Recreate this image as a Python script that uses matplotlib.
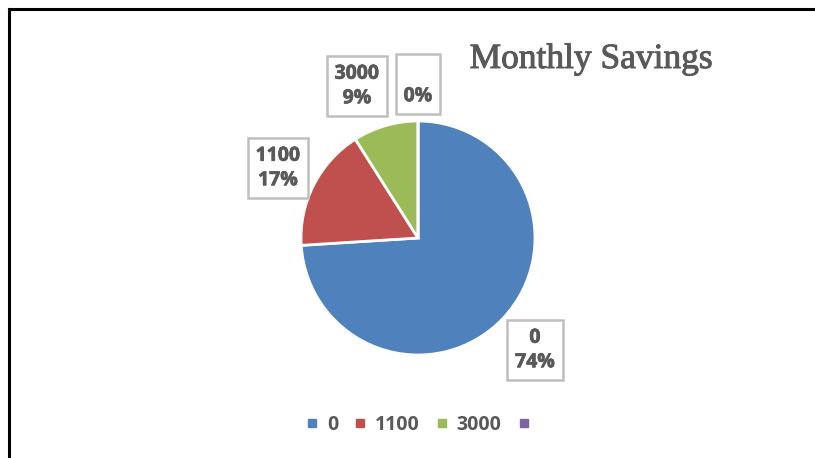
import matplotlib
matplotlib.use("Agg")
from matplotlib import pyplot as plt
from matplotlib.lines import Line2D
import matplotlib.patheffects as pe

# 数据
categories = ['0', '1100', '3000', '']
shares = [74, 17, 9, 0]
colors = ['#4F81BD', '#C0504D', '#9BBB59', '#8064A2']
title = 'Monthly Savings'

# 标签框位置 (像素, 左上原点)
label_pos = [(535, 350), (278, 168), (357, 86), (418, 84)]

W, H = 815, 458
fig = plt.figure(figsize=(W / 100, H / 100), dpi=100)
ax = fig.add_axes([0, 0, 1, 1])

ax.pie(shares, colors=colors, startangle=90, counterclock=False,
       center=(418, H - 238), radius=117,
       wedgeprops=dict(edgecolor='white', linewidth=2))
ax.set_xlim(0, W)
ax.set_ylim(0, H)
ax.set_aspect('equal')
ax.axis('off')

# 数据标签
for cat, val, (x, y) in zip(categories, shares, label_pos):
    txt = f'{cat if cat else " "}\n{val}%'
    ax.text(x, H - y, txt, ha='center', va='center', fontsize=14,
            fontweight='bold', family=['Open Sans', 'DejaVu Sans'], color='#595959',
            linespacing=1.3,
            path_effects=[pe.withStroke(linewidth=0.5, foreground='#595959')],
            bbox=dict(boxstyle='square,pad=0.4', facecolor='white',
                      edgecolor='#BFBFBF', linewidth=1.8))

# 标题
ax.text(591, H - 68, title, ha='center', va='baseline', fontsize=25.5,
        family='Liberation Serif', color='#595959',
        path_effects=[pe.withStroke(linewidth=0.7, foreground='#595959')])

# 图例
handles = [Line2D([], [], marker='s', linestyle='none', markersize=6,
                  markerfacecolor=c, markeredgecolor=c) for c in colors]
fig.legend(handles, categories, loc='center', bbox_to_anchor=(422 / W, 1 - 425 / H),
           ncol=4, frameon=False, handletextpad=0.4, columnspacing=0.8,
           handlelength=0.7,
           prop=dict(family='Open Sans', weight='bold', size=14), labelcolor='#595959')

# 外框
fig.add_artist(Line2D([9 / W, 1], [1 - 9 / H, 1 - 9 / H], color='black', linewidth=2.2,
                      transform=fig.transFigure))
fig.add_artist(Line2D([9 / W, 9 / W], [0, 1 - 9 / H], color='black', linewidth=2.2,
                      transform=fig.transFigure))

fig.savefig('out.png', dpi=100)
